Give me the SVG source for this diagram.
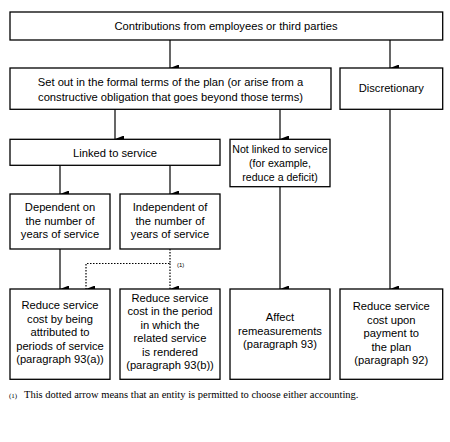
<svg xmlns="http://www.w3.org/2000/svg" width="450" height="442" viewBox="0 0 450 442">
<defs>
<marker id="ah" markerWidth="7" markerHeight="9" refX="3.5" refY="9" orient="auto-start-reverse" markerUnits="userSpaceOnUse" viewBox="0 0 7 9">
<path d="M0,0 L7,0 L3.5,9 Z" fill="#000"/>
</marker>
<style>
.box{fill:#fff;stroke:#000;stroke-width:1.3}
.t{font-family:"Liberation Sans",Arial,sans-serif;font-size:11.2px;fill:#000;text-anchor:middle}
.s{font-size:10.6px}
.c{stroke:#000;stroke-width:1.2;fill:none}
.d{stroke:#000;stroke-width:1.2;fill:none;stroke-dasharray:1.5 1.5}
.fn{font-family:"Liberation Serif","Times New Roman",serif;font-size:10.5px;fill:#000}
</style>
</defs>
<rect width="450" height="442" fill="#fff"/>
<g id="connectors">
<line class="c" x1="170" y1="40" x2="170" y2="68" marker-end="url(#ah)"/>
<line class="c" x1="390" y1="40" x2="390" y2="68" marker-end="url(#ah)"/>
<line class="c" x1="115" y1="109" x2="115" y2="139" marker-end="url(#ah)"/>
<line class="c" x1="280" y1="109" x2="280" y2="139" marker-end="url(#ah)"/>
<line class="c" x1="60" y1="165" x2="60" y2="194" marker-end="url(#ah)"/>
<line class="c" x1="170" y1="165" x2="170" y2="194" marker-end="url(#ah)"/>
<line class="c" x1="60" y1="249" x2="60" y2="289" marker-end="url(#ah)"/>
<polyline class="d" points="170,249 170,263.5 86,263.5 86,289" marker-end="url(#ah)"/>
<line class="d" x1="170" y1="263.5" x2="170" y2="289" marker-end="url(#ah)"/>
<text x="177" y="267" style="font-family:'Liberation Sans',Arial,sans-serif;font-size:6px">(1)</text>
<line class="c" x1="280" y1="187" x2="280" y2="289" marker-end="url(#ah)"/>
<line class="c" x1="390" y1="109" x2="390" y2="289" marker-end="url(#ah)"/>
</g>
<g id="n-contrib">
<rect class="box" x="10" y="12" width="432.7" height="28"/>
<text class="t" x="226" y="30">Contributions from employees or third parties</text>
</g>
<g id="n-formal">
<rect class="box" x="10" y="68" width="321" height="41.3"/>
<text class="t" x="170.5" y="86">Set out in the formal terms of the plan (or arise from a</text>
<text class="t" x="170.5" y="101">constructive obligation that goes beyond those terms)</text>
</g>
<g id="n-discretionary">
<rect class="box" x="340" y="68" width="102.7" height="41.3"/>
<text class="t" x="391.3" y="92">Discretionary</text>
</g>
<g id="n-linked">
<rect class="box" x="10" y="139.3" width="210" height="26"/>
<text class="t" x="115" y="156.5">Linked to service</text>
</g>
<g id="n-notlinked">
<rect class="box" x="230" y="139.3" width="100" height="47.4"/>
<text class="t s" x="280" y="153">Not linked to service</text>
<text class="t s" x="280" y="167">(for example,</text>
<text class="t s" x="280" y="180.5">reduce a deficit)</text>
</g>
<g id="n-dependent">
<rect class="box" x="10" y="194" width="100" height="55"/>
<text class="t" x="60" y="211">Dependent on</text>
<text class="t" x="60" y="224.5">the number of</text>
<text class="t" x="60" y="238">years of service</text>
</g>
<g id="n-independent">
<rect class="box" x="120" y="194" width="100" height="55"/>
<text class="t" x="170" y="211">Independent of</text>
<text class="t" x="170" y="224.5">the number of</text>
<text class="t" x="170" y="238">years of service</text>
</g>
<g id="n-93a">
<rect class="box" x="10" y="289" width="100" height="90.3"/>
<text class="t" x="60" y="309">Reduce service</text>
<text class="t" x="60" y="322.5">cost by being</text>
<text class="t" x="60" y="336">attributed to</text>
<text class="t" x="60" y="349.5">periods of service</text>
<text class="t" x="60" y="363">(paragraph 93(a))</text>
</g>
<g id="n-93b">
<rect class="box" x="120" y="289" width="100" height="90.3"/>
<text class="t" x="170" y="301.5">Reduce service</text>
<text class="t" x="170" y="315">cost in the period</text>
<text class="t" x="170" y="328.5">in which the</text>
<text class="t" x="170" y="342">related service</text>
<text class="t" x="170" y="355.5">is rendered</text>
<text class="t" x="170" y="369">(paragraph 93(b))</text>
</g>
<g id="n-93">
<rect class="box" x="230" y="289" width="100" height="90.3"/>
<text class="t" x="280" y="320.5">Affect</text>
<text class="t" x="280" y="334.5">remeasurements</text>
<text class="t" x="280" y="348">(paragraph 93)</text>
</g>
<g id="n-92">
<rect class="box" x="340" y="289" width="102.7" height="90.3"/>
<text class="t" x="391.3" y="310">Reduce service</text>
<text class="t" x="391.3" y="323.5">cost upon</text>
<text class="t" x="391.3" y="337">payment to</text>
<text class="t" x="391.3" y="350.5">the plan</text>
<text class="t" x="391.3" y="364">(paragraph 92)</text>
</g>
<g id="footnote">
<text class="fn" x="9" y="398" style="font-size:7px">(1)</text>
<text class="fn" x="24" y="398">This dotted arrow means that an entity is permitted to choose either accounting.</text>
</g>
</svg>
